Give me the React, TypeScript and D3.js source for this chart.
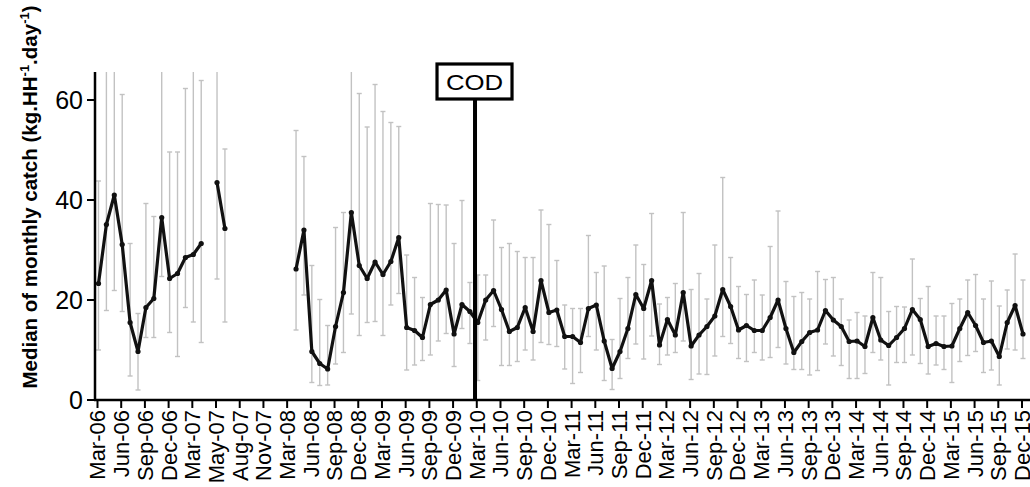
import * as d3 from 'd3';

// tick labels, one every 3 monthly points
const tickLabels = [
  'Mar-06', 'Jun-06', 'Sep-06', 'Dec-06', 'Mar-07', 'May-07', 'Aug-07', 'Nov-07',
  'Mar-08', 'Jun-08', 'Sep-08', 'Dec-08', 'Mar-09', 'Jun-09', 'Sep-09', 'Dec-09',
  'Mar-10', 'Jun-10', 'Sep-10', 'Dec-10', 'Mar-11', 'Jun-11', 'Sep-11', 'Dec-11',
  'Mar-12', 'Jun-12', 'Sep-12', 'Dec-12', 'Mar-13', 'Jun-13', 'Sep-13', 'Dec-13',
  'Mar-14', 'Jun-14', 'Sep-14', 'Dec-14', 'Mar-15', 'Jun-15', 'Sep-15', 'Dec-15',
];
const tickStep = 3;

// median catch per month (null = no data)
const medians: (number | null)[] = [
  23.3, 35.1, 41, 31.1, 15.5, 9.7, 18.5, 20.3, 36.5, 24.3, 25.3, 28.5, 29.1, 31.3, null, 43.5,
  34.3, null, null, null, null, null, null, null, null, 26.2, 34, 9.7, 7.3, 6.2, 14.7, 21.5,
  37.5, 26.9, 24.3, 27.6, 25.1, 27.7, 32.5, 14.5, 13.9, 12.5, 19.1, 20, 22, 13.2, 19.1, 17.7,
  15.5, 20, 21.9, 18.1, 13.7, 14.5, 18.5, 13.7, 23.9, 17.5, 18, 12.7, 12.7, 11.5, 18.3, 19,
  11.8, 6.3, 9.7, 14.3, 21.1, 18.3, 23.9, 11, 16.1, 13, 21.5, 10.8, 13, 14.7, 16.8, 22.1,
  18.7, 14, 14.9, 13.9, 13.9, 16.5, 20, 14.3, 9.5, 11.7, 13.5, 14, 17.9, 16, 14.7, 11.7,
  11.8, 10.7, 16.5, 12, 10.9, 12.5, 14.3, 18.1, 16.1, 10.7, 11.3, 10.7, 10.8, 14.3, 17.5, 14.9,
  11.5, 11.8, 8.7, 15.5, 18.9, 13.2,
];

const lower: (number | null)[] = [
  10, 17.9, 21.9, 17.7, 4.8, 2, 12.5, 12.5, 24.7, 13.5, 8.7, 18.5, 15.6, 11.5, null, 24.2,
  15.6, null, null, null, null, null, null, null, null, 14, 21, 3.5, 2.9, 3, 7.2, 9.5,
  17.2, 12.9, 15.5, 15.7, 12.9, 19, 21.3, 6, 7, 7.9, 9, 11.8, 13.3, 6.7, 14.3, 11.3,
  3.9, 12, 14.7, 6.9, 6.9, 7.7, 10, 8, 11.5, 11.1, 10.7, 6.2, 3.3, 5.5, 12.7, 10,
  3.9, 2.1, 4.3, 8.3, 11.2, 8.2, 12.8, 7.1, 9, 9.5, 11.8, 4.1, 5.2, 5.1, 8.8, 12.7,
  11.3, 8.3, 7.7, 9.5, 8, 8.5, 10.5, 7.2, 6.1, 6.1, 5, 5.9, 11.2, 8.8, 6.9, 4.3,
  4.3, 5.3, 9.5, 8, 3, 7.5, 7.5, 9, 7.3, 5.2, 7, 6.1, 3.5, 7.7, 8.9, 9.7,
  5.5, 6, 3, 10.2, 10, 8.3,
];

const upper: (number | null)[] = [
  43.8, 70, 70, 61.1, 31.3, 17.3, 39.3, 36.7, 70, 49.6, 49.6, 62.3, 70, 63.9, null, 70,
  50.2, null, null, null, null, null, null, null, null, 53.9, 48.7, 26.9, 20.1, 14.9, 34.5, 37.5,
  70, 61.3, 54.6, 63.1, 57.7, 55.5, 54.7, 29, 24.5, 20.5, 39.3, 39.1, 39, 31.3, 39.9, 23.5,
  25, 25, 36, 30.5, 31.3, 29.7, 28.5, 28.5, 38, 35.1, 27.9, 19, 18.3, 18.3, 32.9, 25.5,
  26.8, 12.1, 20.3, 24.5, 31, 27.1, 37.3, 19.2, 20.5, 23.3, 37.5, 22.1, 25.3, 20.2, 31, 44.5,
  28.5, 22.7, 21.1, 24, 21, 30.7, 37.8, 23.7, 20.7, 21.5, 20.2, 25.7, 24.1, 24.5, 20.2, 16,
  17.5, 16.8, 25.5, 24.5, 17.7, 18.7, 18.6, 28.2, 20.3, 22.7, 16.8, 16.8, 19.3, 20.2, 24, 25.1,
  20.2, 23.8, 18.8, 22, 29.2, 24,
];

const yTicks = [0, 20, 40, 60];
const codAt = 47.65; // position of the COD event, in month steps
const codLabel = 'COD';

const W = 1030;
const H = 487;
const font = "Arial, 'Liberation Sans', sans-serif";

export default function App() {
  const axisX = 95;
  const axisY = 400;
  const plotTop = 72;

  const x = d3.scaleLinear().domain([0, medians.length - 1]).range([98.5, 1023]);
  const y = d3.scaleLinear().domain([0, 60]).range([axisY, 100]);

  const pts = medians.map((v, i) => ({ i, v, lo: lower[i], hi: upper[i] }));

  const line = d3.line<{ i: number; v: number | null }>()
    .defined(d => d.v != null)
    .x(d => x(d.i))
    .y(d => y(d.v as number));

  const codX = x(codAt);

  return (
    <svg width={W} height={H} style={{ position: 'absolute', left: 0, top: 0, background: '#fff' }}>
      <defs>
        <clipPath id="plot">
          <rect x={axisX} y={plotTop} width={W - axisX} height={axisY - plotTop} />
        </clipPath>
      </defs>

      {/* error bars */}
      <g clipPath="url(#plot)" stroke="#c2c2c2" strokeWidth={1.4}>
        {pts.filter(d => d.lo != null && d.hi != null).map(d => {
          const cx = x(d.i);
          return (
            <g key={d.i}>
              <line x1={cx} x2={cx} y1={y(d.lo as number)} y2={y(d.hi as number)} />
              <line x1={cx - 2.5} x2={cx + 2.5} y1={y(d.lo as number)} y2={y(d.lo as number)} />
              <line x1={cx - 2.5} x2={cx + 2.5} y1={y(d.hi as number)} y2={y(d.hi as number)} />
            </g>
          );
        })}
      </g>

      {/* median line */}
      <path d={line(pts) || ''} fill="none" stroke="#111" strokeWidth={3.2} strokeLinejoin="round" />
      {pts.filter(d => d.v != null).map(d => (
        <circle key={d.i} cx={x(d.i)} cy={y(d.v as number)} r={2.6} fill="#111" />
      ))}

      {/* COD marker */}
      <line x1={codX} x2={codX} y1={100} y2={axisY} stroke="#000" strokeWidth={4} />
      <rect x={codX - 38} y={64} width={75} height={35} fill="#fff" stroke="#000" strokeWidth={3.2} />
      <text transform={`translate(${codX - 0.5},90) scale(1.12,1)`} textAnchor="middle" fontFamily={font} fontSize={23}>{codLabel}</text>

      {/* y axis */}
      <line x1={axisX} x2={axisX} y1={plotTop} y2={axisY + 1} stroke="#000" strokeWidth={2.5} />
      {yTicks.map(t => (
        <g key={t}>
          <line x1={axisX - 8} x2={axisX} y1={y(t)} y2={y(t)} stroke="#000" strokeWidth={2} />
          <text x={axisX - 12} y={y(t)} dy="0.36em" textAnchor="end" fontFamily={font} fontSize={25}>{t}</text>
        </g>
      ))}
      <text
        transform={`translate(37,197) rotate(-90)`}
        textAnchor="middle"
        fontFamily={font}
        fontSize={20.5}
        fontWeight="bold"
      >
        Median of monthly catch (kg.HH<tspan fontSize={13} dy={-8}>-1</tspan>
        <tspan dy={8}>.day</tspan><tspan fontSize={13} dy={-8}>-1</tspan>
        <tspan dy={8}>)</tspan>
      </text>

      {/* x axis */}
      <line x1={axisX - 1} x2={W} y1={axisY} y2={axisY} stroke="#000" strokeWidth={2.5} />
      {tickLabels.map((lab, k) => {
        const tx = x(k * tickStep) - 1;
        return (
          <g key={lab}>
            <line x1={tx} x2={tx} y1={axisY} y2={axisY + 8} stroke="#000" strokeWidth={2} />
            <text
              transform={`translate(${tx},${axisY + 10}) rotate(-90)`}
              dy="0.36em"
              textAnchor="end"
              fontFamily={font}
              fontSize={22}
            >
              {lab}
            </text>
          </g>
        );
      })}
    </svg>
  );
}
